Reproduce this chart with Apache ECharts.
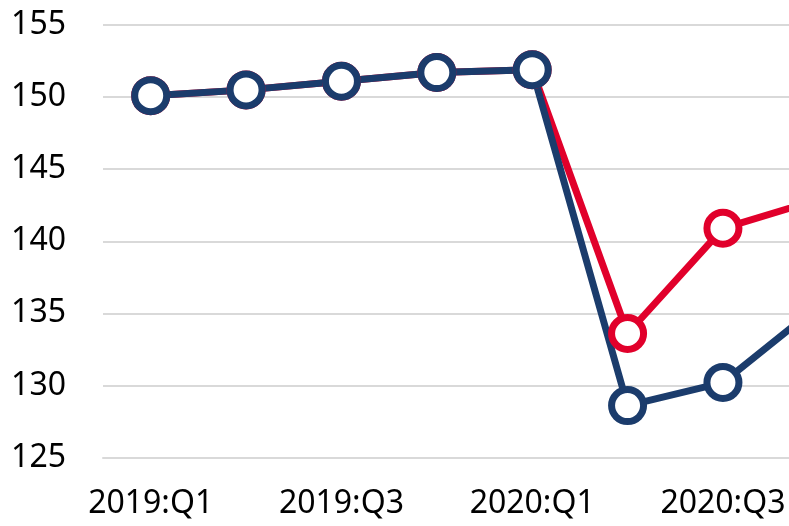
<!DOCTYPE html>
<html>
<head>
<meta charset="utf-8">
<script src="https://cdn.jsdelivr.net/npm/echarts@6/dist/echarts.min.js"></script>
<style>
  html, body { margin: 0; padding: 0; background: #fff; }
  #chart { width: 789px; height: 526px; }
</style>
</head>
<body>
<div id="chart"></div>
<script>
// quarters (last one falls just past the right edge, as in the picture)
const quarters = ['2019:Q1', '2019:Q2', '2019:Q3', '2019:Q4', '2020:Q1', '2020:Q2', '2020:Q3', '2020:Q4']
const redValues = [150.1, 150.5, 151.1, 151.7, 151.9, 133.6, 140.9, 142.9]
const blueValues = [150.1, 150.5, 151.1, 151.7, 151.9, 128.6, 130.2, 135.5]
const yTicks = { min: 125, max: 155, step: 5 }

const red = '#e1002b'
const blue = '#1b3c6c'
const grey = '#d9d9d9'

function lineSeries (name, data, color) {
    return {
        name: name,
        type: 'line',
        data: data,
        symbol: 'circle',
        symbolSize: 32,
        clip: false,
        lineStyle: { color: color, width: 7 },
        itemStyle: { color: '#fff', borderColor: color, borderWidth: 7 }
    }
}

const chart = echarts.init(document.getElementById('chart'))
chart.setOption({
    animation: false,
    grid: { left: 103, top: 25, width: 763, height: 432.5, outerBoundsMode: 'none', containLabel: false },
    xAxis: {
        type: 'category',
        data: quarters,
        boundaryGap: true,
        axisLine: { lineStyle: { color: grey, width: 2 } },
        axisTick: { interval: 1, length: 12, lineStyle: { color: grey, width: 2 } },
        axisLabel: {
            interval: 1,
            margin: 30,
            color: '#000',
            fontSize: 32,
            fontFamily: 'Noto Sans'
        }
    },
    yAxis: {
        type: 'value',
        min: yTicks.min,
        max: yTicks.max,
        interval: yTicks.step,
        axisLine: { show: false },
        axisTick: { show: false },
        splitLine: { lineStyle: { color: grey, width: 2 } },
        axisLabel: {
            margin: 37,
            color: '#000',
            fontSize: 32,
            fontFamily: 'Noto Sans'
        }
    },
    series: [
        lineSeries('red', redValues, red),
        lineSeries('blue', blueValues, blue)
    ]
})
</script>
</body>
</html>
